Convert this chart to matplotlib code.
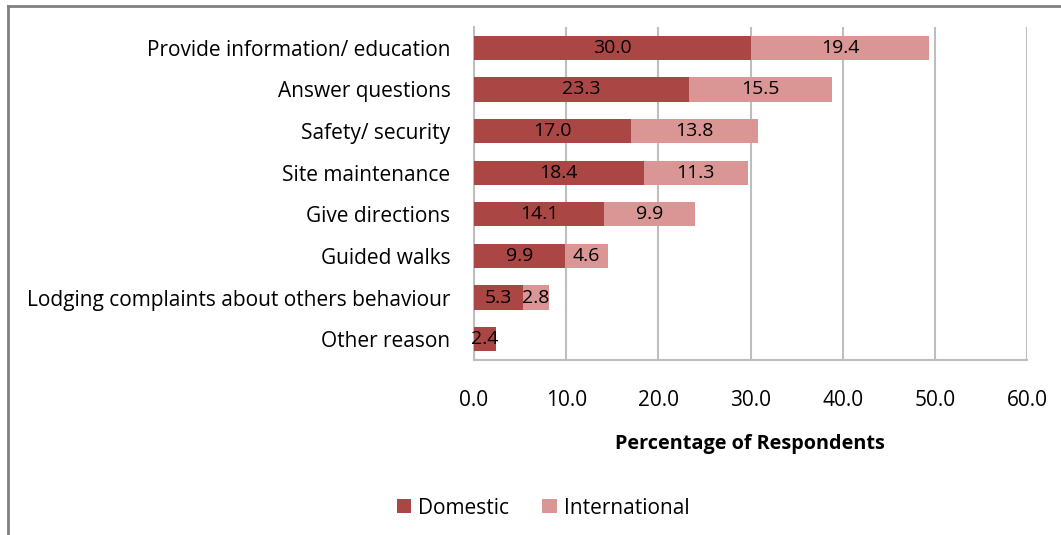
import matplotlib
matplotlib.use("Agg")
import matplotlib.pyplot as plt
import numpy as np

categories = ["Provide information/ education", "Answer questions", "Safety/ security",
              "Site maintenance", "Give directions", "Guided walks",
              "Lodging complaints about others behaviour", "Other reason"]
domestic = [30.0, 23.3, 17.0, 18.4, 14.1, 9.9, 5.3, 2.4]
international = [19.4, 15.5, 13.8, 11.3, 9.9, 4.6, 2.8, 0.0]
xticks = [0, 10, 20, 30, 40, 50, 60]

plt.rcParams['font.family'] = ['Open Sans', 'DejaVu Sans']

W, H = 1061, 535
fig = plt.figure(figsize=(W/100, H/100), dpi=100)
ax = fig.add_axes([474/W, 1-360/H, (1027-474)/W, (360-27)/H])

c_dom = "#AA4643"
c_int = "#D99694"
y = np.arange(len(categories))
h = 0.58
ax.barh(y, domestic, height=h, color=c_dom, label="Domestic", zorder=3)
ax.barh(y, international, left=domestic, height=h, color=c_int, label="International", zorder=3)

for i in range(len(categories)):
    ax.text(domestic[i]/2, y[i], f"{domestic[i]:.1f}", ha="center", va="center",
            fontsize=14, color="black", zorder=4)
    if international[i] > 0:
        ax.text(domestic[i] + international[i]/2, y[i], f"{international[i]:.1f}",
                ha="center", va="center", fontsize=14, color="black", zorder=4)

ax.set_xlim(0, 60)
ax.set_ylim(len(categories)-0.5, -0.5)
ax.set_xticks(xticks)
ax.set_xticklabels([f"{v:.1f}" for v in xticks], fontsize=15)
ax.set_yticks(y)
ax.set_yticklabels(categories, fontsize=15)
ax.tick_params(axis="both", length=0)
ax.tick_params(axis="y", pad=17)
ax.tick_params(axis="x", pad=21.5)
ax.xaxis.grid(True, color="#BEBEBE", linewidth=1.5, zorder=0)
for s in ["top", "right"]:
    ax.spines[s].set_visible(False)
for s in ["left", "bottom"]:
    ax.spines[s].set_color("#BEBEBE")
    ax.spines[s].set_linewidth(1.5)

fig.text(750/W, 1-444/H, "Percentage of Respondents", ha="center", va="center",
         fontsize=14.3, fontweight="bold")

leg = fig.legend(loc="center", bbox_to_anchor=(543/W, 1-508/H), ncol=2, frameon=False,
                 fontsize=15, handlelength=0.68, handleheight=0.68, columnspacing=1.6,
                 handletextpad=0.35)

# outer border (top and left visible)
fig.add_artist(plt.Line2D([8/W, 1], [1-6/H, 1-6/H], color="#808080", linewidth=2))
fig.add_artist(plt.Line2D([8/W, 8/W], [1-6/H, 0], color="#808080", linewidth=2))

fig.savefig("out.png", dpi=100)
